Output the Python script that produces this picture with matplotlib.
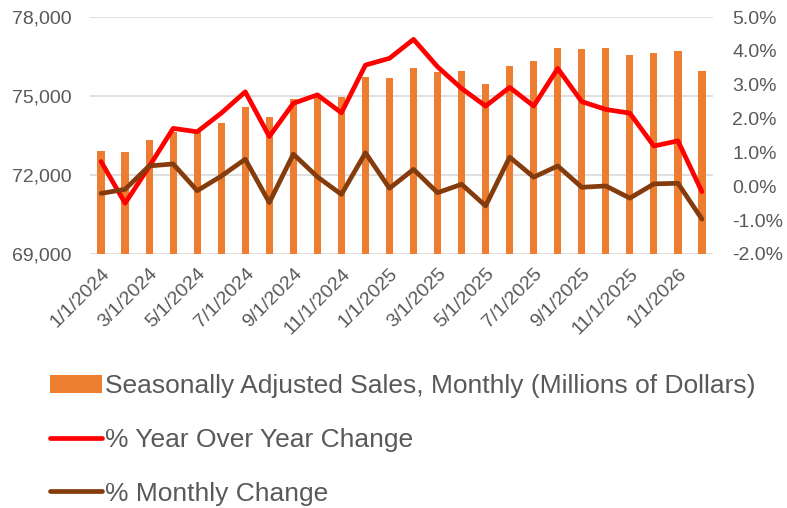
import matplotlib
matplotlib.use('Agg')
import matplotlib.pyplot as plt
import matplotlib.ticker as mtick
from matplotlib import font_manager

# monthly data, 1/1/2024 .. 2/1/2026
months = ['1/1/2024', '2/1/2024', '3/1/2024', '4/1/2024', '5/1/2024', '6/1/2024',
          '7/1/2024', '8/1/2024', '9/1/2024', '10/1/2024', '11/1/2024', '12/1/2024',
          '1/1/2025', '2/1/2025', '3/1/2025', '4/1/2025', '5/1/2025', '6/1/2025',
          '7/1/2025', '8/1/2025', '9/1/2025', '10/1/2025', '11/1/2025', '12/1/2025',
          '1/1/2026', '2/1/2026']
sales = [72910, 72870, 73320, 73650, 73620, 73960, 74570, 74200, 74900, 75040,
         74950, 75710, 75670, 76060, 75910, 75950, 75470, 76140, 76340, 76810,
         76800, 76810, 76560, 76620, 76700, 75950]
yoy = [0.73, -0.50, 0.58, 1.71, 1.61, 2.16, 2.79, 1.47, 2.45, 2.70, 2.17, 3.58,
       3.78, 4.34, 3.53, 2.89, 2.37, 2.92, 2.37, 3.48, 2.50, 2.27, 2.16, 1.19,
       1.34, -0.16]
mom = [-0.21, -0.09, 0.60, 0.66, -0.13, 0.30, 0.80, -0.48, 0.95, 0.28, -0.24, 0.99,
       -0.06, 0.50, -0.19, 0.06, -0.58, 0.86, 0.27, 0.60, -0.03, 0.01, -0.35, 0.07,
       0.09, -0.97]

names = {f.name for f in font_manager.fontManager.ttflist}
fam = 'Liberation Sans Narrow' if 'Liberation Sans Narrow' in names else 'Liberation Sans'
plt.rcParams['font.family'] = [fam, 'DejaVu Sans']

txt = '#595959'
fig = plt.figure(figsize=(7.87, 5.08), dpi=100)
ax1 = fig.add_axes([90 / 787, 0.5, (713 - 90) / 787, (254 - 17) / 508])
x = range(len(months))
ax1.bar(x, sales, width=0.3, color='#ED7D31', zorder=2,
        label='Seasonally Adjusted Sales, Monthly (Millions of Dollars)')
ax1.set_ylim(69000, 78000)
ax1.set_yticks([69000, 72000, 75000, 78000])
ax1.yaxis.set_major_formatter(mtick.StrMethodFormatter('{x:,.0f}'))
ax1.set_xlim(-0.46, 25.46)
ax1.grid(axis='y', color='#D9D9D9', linewidth=1.2, zorder=0)
ax1.set_axisbelow(True)
ax1.set_xticks(list(x)[::2])
ax1.set_xticklabels(months[::2], rotation=45, ha='right', rotation_mode='anchor')
for s in ax1.spines.values():
    s.set_visible(False)
ax1.tick_params(length=0, labelsize=14, colors=txt, pad=13)
ax1.tick_params(axis='x', labelsize=14, pad=8)

ax2 = ax1.twinx()
ax2.plot(x, yoy, color='#FF0000', linewidth=3.4, zorder=3, solid_joinstyle='round',
         solid_capstyle='round', label='% Year Over Year Change')
ax2.plot(x, mom, color='#843C0C', linewidth=3.4, zorder=3, solid_joinstyle='round',
         solid_capstyle='round', label='% Monthly Change')
ax2.set_ylim(-2, 5)
ax2.set_yticks(range(-2, 6))
ax2.yaxis.set_major_formatter(mtick.FuncFormatter(lambda v, p: '%.1f%%' % v))
for s in ax2.spines.values():
    s.set_visible(False)
ax2.tick_params(length=0, labelsize=14, colors=txt, pad=14)

h1, l1 = ax1.get_legend_handles_labels()
h2, l2 = ax2.get_legend_handles_labels()
fig.legend(h1 + h2, l1 + l2, loc='upper left', bbox_to_anchor=(0.0496, 0.2844),
           frameon=False, fontsize=19, labelcolor=txt, handlelength=2.0,
           handletextpad=0.1, labelspacing=1.13, borderaxespad=0)

fig.savefig('out.png', dpi=100)
